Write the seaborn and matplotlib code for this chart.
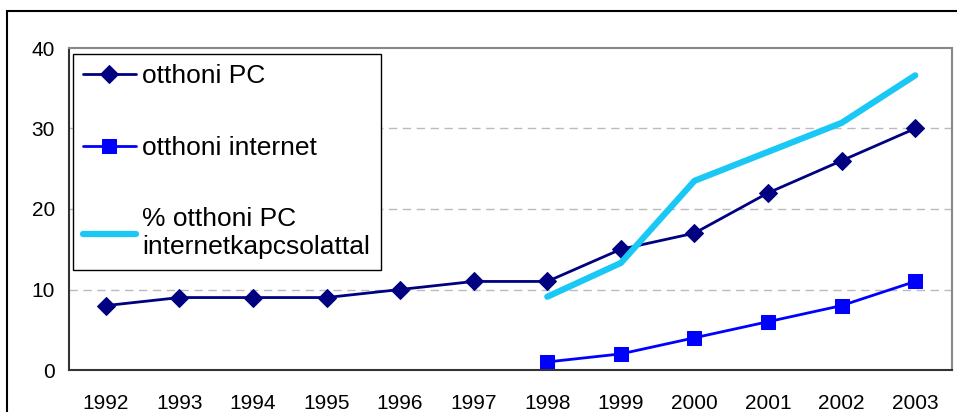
import pandas as pd
import seaborn as sns
import matplotlib.pyplot as plt
from matplotlib.patches import Rectangle

years = list(range(1992, 2004))
pc_home = [8, 9, 9, 9, 10, 11, 11, 15, 17, 22, 26, 30]
net_years = [1998, 1999, 2000, 2001, 2002, 2003]
net_home = [1, 2, 4, 6, 8, 11]
pct_net = [9.1, 13.3, 23.5, 27.1, 30.7, 36.6]

labels = ["otthoni PC", "otthoni internet", "% otthoni PC\ninternetkapcsolattal"]

sns.set_style("white")
plt.rcParams["font.family"] = ["Liberation Sans", "DejaVu Sans"]
plt.rcParams["text.color"] = "black"
plt.rcParams["xtick.color"] = "black"
plt.rcParams["ytick.color"] = "black"

fig = plt.figure(figsize=(9.57, 4.12), dpi=100)
ax = fig.add_axes([69 / 957, 42 / 412, 883 / 957, 322 / 412])

df_pc = pd.DataFrame({"year": years, "value": pc_home})
df_net = pd.DataFrame({"year": net_years, "value": net_home})
df_pct = pd.DataFrame({"year": net_years, "value": pct_net})

sns.lineplot(data=df_pc, x="year", y="value", ax=ax, color="#000080", lw=2,
             marker="D", markersize=9, markeredgecolor="#000080", label=labels[0])
sns.lineplot(data=df_net, x="year", y="value", ax=ax, color="#0000FF", lw=2,
             marker="s", markersize=10, markeredgecolor="#0000FF", label=labels[1])
sns.lineplot(data=df_pct, x="year", y="value", ax=ax, color="#1AC8F5", lw=4.5,
             label=labels[2])

ax.set_xlim(1991.5, 2003.5)
ax.set_ylim(0, 40)
ax.set_yticks([0, 10, 20, 30, 40])
ax.set_xticks([y - 0.5 for y in years] + [2003.5])
ax.set_xticklabels([])
ax.set_xticks(years, minor=True)
ax.set_xticklabels([str(y) for y in years], minor=True)
ax.tick_params(axis="x", which="major", length=6, width=1.2, color="#333333", direction="out")
ax.tick_params(axis="x", which="minor", length=0, pad=17, labelsize=15, labelcolor="black")
ax.tick_params(axis="y", length=6, width=1.2, color="#333333", direction="out",
               labelsize=15, pad=4, labelcolor="black")
ax.set_xlabel("")
ax.set_ylabel("")

for y in [10, 20, 30]:
    ax.axhline(y, color="#BBBBBB", lw=1, ls=(0, (6, 4)), zorder=0)

for s in ["top", "right"]:
    ax.spines[s].set_color("#888888")
    ax.spines[s].set_linewidth(1.5)
for s in ["left", "bottom"]:
    ax.spines[s].set_color("#333333")
    ax.spines[s].set_linewidth(1.5)

leg = ax.legend(loc="upper left", bbox_to_anchor=(0.004, 0.982), fontsize=19,
                frameon=True, fancybox=False, edgecolor="black", framealpha=1,
                labelspacing=1.8, handlelength=2.0, handletextpad=0.25,
                borderpad=0.4, borderaxespad=0, labelcolor="black")
leg.get_frame().set_linewidth(1)

fig.patches.append(Rectangle((7 / 957, -0.2), 2, (412 - 11) / 412 + 0.2,
                             transform=fig.transFigure, fill=False,
                             edgecolor="black", lw=1.5))

fig.savefig("out.png", dpi=100)
